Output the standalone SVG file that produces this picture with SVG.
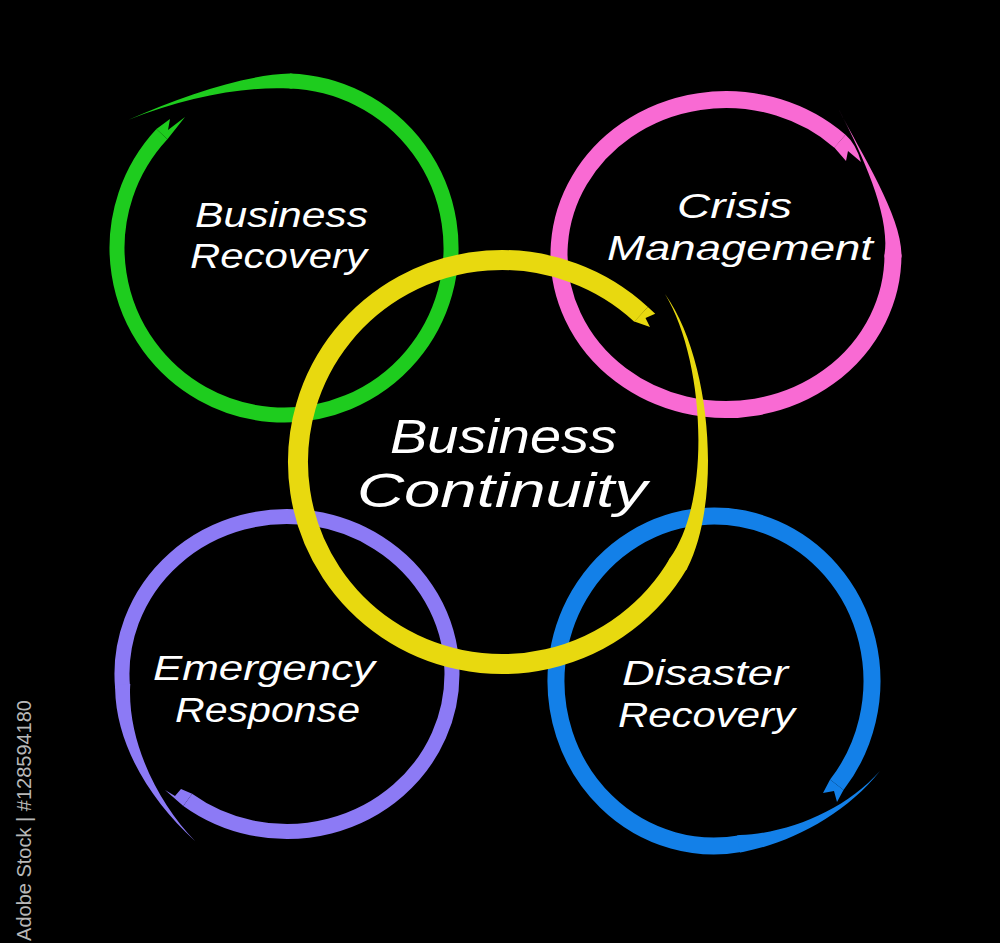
<svg xmlns="http://www.w3.org/2000/svg" width="1000" height="943" viewBox="0 0 1000 943">
<style>
.ring{fill:none;stroke-linecap:butt}
.lbl{fill:#ffffff;font-family:"Liberation Sans","DejaVu Sans",sans-serif;font-style:italic;text-anchor:middle}
.sm{font-size:35px}
.lg{font-size:48px}
.green{stroke:#1ecc1e}.fgreen{fill:#1ecc1e}
.pink{stroke:#f96ad3}.fpink{fill:#f96ad3}
.yellow{stroke:#e8d90f}.fyellow{fill:#e8d90f}
.purple{stroke:#8c7af5}.fpurple{fill:#8c7af5}
.blue{stroke:#1380e8}.fblue{fill:#1380e8}
.stockid{fill:#b8b8b8;font-family:"Liberation Sans","DejaVu Sans",sans-serif;font-size:20px;text-anchor:end}
</style>
<rect x="0" y="0" width="1000" height="943" fill="#000000"/>
<g id="connectors"></g>
<g id="business-recovery">
<path class="ring green" stroke-width="15" d="M161.9,134.1 A167,167 0 1 0 289.8,81.1"/>
<path class="fgreen" d="M292.5,73.7 L289.8,73.6 C245,75 185,95 128,120 C185,97 245,86 289.8,88.6 L292.5,88.5 Z"/>
<path class="fgreen" d="M156.4,129 L170,119 L168,130 L185,117 L167.4,139.2 Z"/>
<text class="lbl sm" x="281.5" y="227" textLength="173" lengthAdjust="spacingAndGlyphs">Business</text>
<text class="lbl sm" x="278.5" y="268" textLength="177" lengthAdjust="spacingAndGlyphs">Recovery</text>
</g>
<g id="crisis-management">
<path class="ring pink" stroke-width="17" d="M839.9,141.2 A167,155 0 1 0 893,254.5"/>
<path class="fpink" d="M901.5,257.5 L901.5,254.5 C901,215 862,155 838,108 C859,148 891,214 884.5,254.5 L884.5,257.5 Z"/>
<path class="fpink" d="M845.5,134.8 Q856,144 861,162 L848,151 L846,161 L834.3,147.6 Z"/>
<text class="lbl sm" x="734.5" y="218" textLength="115" lengthAdjust="spacingAndGlyphs">Crisis</text>
<text class="lbl sm" x="740" y="260" textLength="266" lengthAdjust="spacingAndGlyphs">Management</text>
</g>
<g id="emergency-response">
<path class="ring purple" stroke-width="15" d="M187.7,799.8 A165,157.5 0 1 0 122.6,687.7"/>
<path class="fpurple" d="M115.2,685.3 L115.1,688.3 C116,745 150,800 195,841 C160,805 128,745 130.1,687.1 L130.3,684.1 Z"/>
<path class="fpurple" d="M183.3,805.9 L165,790 L175,796 L181,789 L192.1,793.7 Z"/>
<text class="lbl sm" x="264" y="680" textLength="222" lengthAdjust="spacingAndGlyphs">Emergency</text>
<text class="lbl sm" x="267.5" y="722" textLength="185" lengthAdjust="spacingAndGlyphs">Response</text>
</g>
<g id="disaster-recovery">
<path class="ring blue" stroke-width="17" d="M836.8,784.8 A158,165 0 1 0 741.5,843.5"/>
<path class="fblue" d="M740,852.4 L743,852 C790,843 845,815 880,771 C845,810 790,833 740,835.1 L737,835.4 Z"/>
<path class="fblue" d="M843.5,790 L837,802 L834,791 L823,793 L830.1,779.6 Z"/>
<text class="lbl sm" x="705" y="685" textLength="166" lengthAdjust="spacingAndGlyphs">Disaster</text>
<text class="lbl sm" x="706.5" y="727" textLength="177" lengthAdjust="spacingAndGlyphs">Recovery</text>
</g>
<g id="business-continuity">
<path class="ring yellow" stroke-width="20" d="M641.1,314.3 A204,202 0 1 0 678.7,563"/>
<path class="fyellow" d="M685.9,570.6 L687.4,568 C722,500 712,360 665,294 C705,360 712,500 670,558 L668.5,560.6 Z"/>
<path class="fyellow" d="M647.9,307 L655.2,313.8 L645.5,318 L650,327 L634.3,321.6 Z"/>
<text class="lbl lg" x="503.5" y="453" textLength="227" lengthAdjust="spacingAndGlyphs">Business</text>
<text class="lbl lg" x="502" y="507" textLength="290" lengthAdjust="spacingAndGlyphs">Continuity</text>
</g>
<text class="stockid" transform="translate(31,700) rotate(-90)">Adobe Stock | #128594180</text>
</svg>
